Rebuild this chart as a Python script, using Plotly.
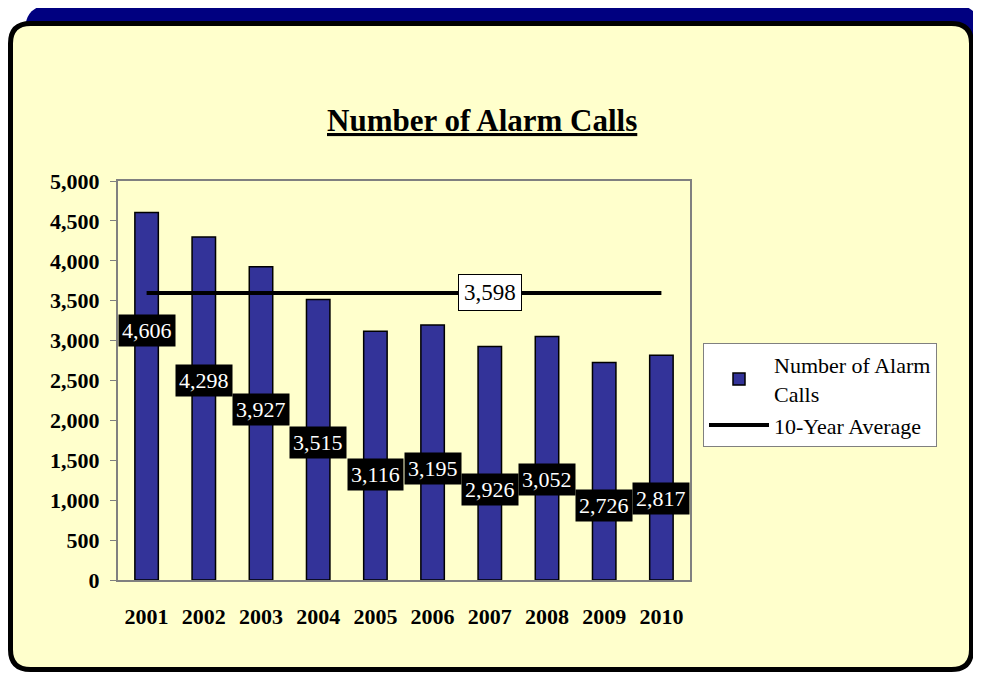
import plotly.graph_objects as go

# the page puts the figure 8px in from the top-left corner, so the figure is
# that much smaller than the window and every pixel position is shifted by it
PAGE_OFFSET = 8
W, H = 981 - PAGE_OFFSET, 673 - PAGE_OFFSET

years = ["2001", "2002", "2003", "2004", "2005", "2006", "2007", "2008", "2009", "2010"]
alarm_calls = [4606, 4298, 3927, 3515, 3116, 3195, 2926, 3052, 2726, 2817]
ten_year_avg = 3598
avg_label_year = "2007"

SERIF = "Liberation Serif, Times New Roman, serif"


def px_x(x):
    return (x - PAGE_OFFSET) / W


def px_y(y):
    return 1 - (y - PAGE_OFFSET) / H


def rounded_rect(x0, y0, x1, y1, r):
    """SVG path of a rounded rectangle, given in page pixels, returned in paper coords"""
    pts = [
        ("M", [(x0 + r, y0)]),
        ("L", [(x1 - r, y0)]), ("Q", [(x1, y0), (x1, y0 + r)]),
        ("L", [(x1, y1 - r)]), ("Q", [(x1, y1), (x1 - r, y1)]),
        ("L", [(x0 + r, y1)]), ("Q", [(x0, y1), (x0, y1 - r)]),
        ("L", [(x0, y0 + r)]), ("Q", [(x0, y0), (x0 + r, y0)]),
    ]
    out = ""
    for cmd, coords in pts:
        out += cmd + " " + " ".join(f"{px_x(a):.5f},{px_y(b):.5f}" for a, b in coords) + " "
    return out + "Z"


fig = go.Figure()
fig.add_trace(go.Bar(
    x=years, y=alarm_calls, name="Number of Alarm<br>Calls",
    marker=dict(color="#333399", line=dict(color="black", width=1.5)),
))
fig.add_trace(go.Scatter(
    x=years, y=[ten_year_avg] * len(years), name="10-Year Average",
    mode="lines", line=dict(color="black", width=4),
))

# data labels sit well below the bar tops, as in the original
# (annotation x on a category axis is the category index, not its name)
annotations = []
for i, val in enumerate(alarm_calls):
    annotations.append(dict(
        x=i, y=val, xref="x", yref="y", text=f"{val:,}", showarrow=False,
        yshift=-118 if i == 0 else -143,
        font=dict(family=SERIF, size=22, color="white"),
        bgcolor="black", borderpad=3,
    ))
annotations.append(dict(
    x=years.index(avg_label_year), y=ten_year_avg, xref="x", yref="y",
    text=f"{ten_year_avg:,}", showarrow=False,
    font=dict(family=SERIF, size=23, color="black"),
    bgcolor="white", bordercolor="black", borderwidth=1, borderpad=5,
))
annotations.append(dict(
    x=px_x(482), y=px_y(121), xref="paper", yref="paper",
    xanchor="center", yanchor="middle",
    text="<b><u>Number of Alarm Calls</u></b>", showarrow=False,
    font=dict(family=SERIF, size=31, color="black"),
))

shapes = [
    dict(type="path", xref="paper", yref="paper", layer="below",
         path=rounded_rect(25, 5, 980, 662, 26), fillcolor="#000080", line=dict(width=0)),
    dict(type="path", xref="paper", yref="paper", layer="below",
         path=rounded_rect(10.5, 23.5, 971.5, 669.5, 20), fillcolor="#FFFFCC",
         line=dict(color="black", width=5)),
]

fig.update_layout(
    width=W, height=H,
    margin=dict(l=0, r=0, t=0, b=0),
    paper_bgcolor="white", plot_bgcolor="white",
    font=dict(family=SERIF, color="black"),
    bargap=0.59,
    showlegend=True,
    legend=dict(
        x=px_x(703), y=px_y(343), xanchor="left", yanchor="top",
        bgcolor="white", bordercolor="#808080", borderwidth=1,
        font=dict(family=SERIF, size=22, color="black"),
        tracegroupgap=0, itemwidth=60,
    ),
    annotations=annotations,
    shapes=shapes,
    xaxis=dict(
        type="category", range=[-0.5, len(years) - 0.5],
        domain=[px_x(118), px_x(690)], automargin=False,
        showline=True, mirror=True, linecolor="#808080", linewidth=2,
        showgrid=False, ticks="", ticklabelstandoff=16,
        tickfont=dict(family=SERIF, size=22, color="black", weight="bold"),
    ),
    yaxis=dict(
        domain=[px_y(580), px_y(181)], automargin=False,
        range=[0, 5000], dtick=500, tickformat=",",
        showline=True, mirror=True, linecolor="#808080", linewidth=2,
        showgrid=False, zeroline=False,
        ticks="outside", ticklen=6, tickcolor="#808080", ticklabelstandoff=6,
        tickfont=dict(family=SERIF, size=22, color="black", weight="bold"),
    ),
)

fig.write_html("out.html")
